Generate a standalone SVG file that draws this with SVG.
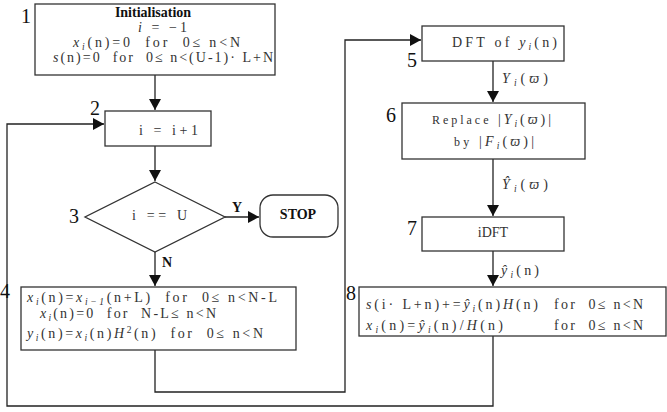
<svg xmlns="http://www.w3.org/2000/svg" width="667" height="412" viewBox="0 0 667 412">
<style>
.box{fill:#fff;stroke:#333;stroke-width:1.3}
.conn{fill:none;stroke:#222;stroke-width:1.3}
.t{font-family:"Liberation Serif","DejaVu Serif",serif;font-size:14px;fill:#333}
.num{font-family:"Liberation Serif","DejaVu Serif",serif;font-size:20px;fill:#111}
.b{font-weight:bold;fill:#111}
.i{font-style:italic}
.s{font-size:9.5px;font-style:italic}
.sm{font-size:12px}
</style>
<defs>
<marker id="ah" markerUnits="userSpaceOnUse" markerWidth="12" markerHeight="12" refX="11" refY="6" orient="auto">
<path d="M0,0 L11,6 L0,12 z" fill="#111"/>
</marker>
</defs>

<g id="connectors">
<path class="conn" d="M155,75 V110" marker-end="url(#ah)"/>
<path class="conn" d="M155,146 V181" marker-end="url(#ah)"/>
<path class="conn" d="M225,217 H259" marker-end="url(#ah)"/>
<path class="conn" d="M155,252 V286" marker-end="url(#ah)"/>
<path class="conn" d="M155,350 V392 H345 V40 H421" marker-end="url(#ah)"/>
<path class="conn" d="M493,61 V102" marker-end="url(#ah)"/>
<path class="conn" d="M493,159 V216" marker-end="url(#ah)"/>
<path class="conn" d="M493,251 V286" marker-end="url(#ah)"/>
<path class="conn" d="M493,336 V406 H7 V124 H104" marker-end="url(#ah)"/>
<text class="t b" x="232" y="212" font-size="11.5">Y</text>
<text class="t b" x="162" y="267" font-size="11.5">N</text>
<text class="t" x="502" y="83" textLength="46"><tspan class="i">Y</tspan><tspan class="s" baseline-shift="-2.5">i</tspan>(<tspan class="i">ϖ</tspan>)</text>
<text class="t" x="502" y="189" textLength="46"><tspan class="i">Ŷ</tspan><tspan class="s" baseline-shift="-2.5">i</tspan>(<tspan class="i">ϖ</tspan>)</text>
<text class="t" x="501" y="275" textLength="38"><tspan class="i">ŷ</tspan><tspan class="s" baseline-shift="-2.5">i</tspan>(n)</text>
</g>

<g id="node1">
<rect class="box" x="35" y="4" width="240" height="71"/>
<text class="num" x="21" y="23">1</text>
<text class="t b" x="153" y="17" text-anchor="middle" font-size="12.5">Initialisation</text>
<text class="t" x="138" y="32" textLength="49"><tspan class="i">i</tspan> = −1</text>
<text class="t" x="73" y="47" textLength="167"><tspan class="i">x</tspan><tspan class="s" baseline-shift="-2.5">i</tspan>(n)=0&#160;&#160;for&#160;&#160;0≤&#160;n&lt;N</text>
<text class="t" x="53" y="62" textLength="220"><tspan class="i">s</tspan>(n)=0&#160;&#160;for&#160;&#160;0≤&#160;n&lt;(U-1)·&#160;L+N</text>
</g>

<g id="node2">
<rect class="box" x="105" y="111" width="106" height="35"/>
<text class="num" x="90" y="115">2</text>
<text class="t" x="139" y="135" textLength="59">i&#160;=&#160;i+1</text>
</g>

<g id="node3">
<polygon class="box" points="155,182 225,217 155,252 85,217"/>
<text class="num" x="69" y="223">3</text>
<text class="t" x="132" y="220" textLength="55">i&#160;==&#160;U</text>
</g>

<g id="stop">
<rect class="box" x="260" y="195" width="78" height="42" rx="13"/>
<text class="t b" x="298" y="219" text-anchor="middle" font-size="12.5">STOP</text>
</g>

<g id="node4">
<rect class="box" x="21" y="287" width="275" height="63"/>
<text class="num" x="0" y="298">4</text>
<text class="t" x="27" y="302" textLength="250"><tspan class="i">x</tspan><tspan class="s" baseline-shift="-2.5">i</tspan>(n)=<tspan class="i">x</tspan><tspan class="s" baseline-shift="-2.5">i−1</tspan>(n+L)&#160;&#160;for&#160;&#160;0≤&#160;n&lt;N-L</text>
<text class="t" x="40" y="318" textLength="176"><tspan class="i">x</tspan><tspan class="s" baseline-shift="-2.5">i</tspan>(n)=0&#160;&#160;for&#160;&#160;N-L≤&#160;n&lt;N</text>
<text class="t" x="27" y="338" textLength="236"><tspan class="i">y</tspan><tspan class="s" baseline-shift="-2.5">i</tspan>(n)=<tspan class="i">x</tspan><tspan class="s" baseline-shift="-2.5">i</tspan>(n)<tspan class="i">H</tspan><tspan font-size="9.5" baseline-shift="5">2</tspan>(n)&#160;&#160;for&#160;&#160;0≤&#160;n&lt;N</text>
</g>

<g id="node5">
<rect class="box" x="422" y="26" width="142" height="35"/>
<text class="num" x="407" y="67">5</text>
<text class="t" x="452" y="47" textLength="105">DFT&#160;of&#160;<tspan class="i">y</tspan><tspan class="s" baseline-shift="-2.5">i</tspan>(n)</text>
</g>

<g id="node6">
<rect class="box" x="402" y="103" width="183" height="56"/>
<text class="num" x="386" y="122">6</text>
<text class="t" x="432" y="124" textLength="119"><tspan class="sm">Replace</tspan>&#160;|<tspan class="i">Y</tspan><tspan class="s" baseline-shift="-2.5">i</tspan>(<tspan class="i">ϖ</tspan>)|</text>
<text class="t" x="454" y="146" textLength="80"><tspan class="sm">by</tspan>&#160;|<tspan class="i">F</tspan><tspan class="s" baseline-shift="-2.5">i</tspan>(<tspan class="i">ϖ</tspan>)|</text>
</g>

<g id="node7">
<rect class="box" x="422" y="217" width="142" height="34"/>
<text class="num" x="407" y="235">7</text>
<text class="t" x="493" y="237" text-anchor="middle" font-size="12">iDFT</text>
</g>

<g id="node8">
<rect class="box" x="359" y="287" width="307" height="49"/>
<text class="num" x="346" y="300">8</text>
<text class="t" x="366" y="309" textLength="172"><tspan class="i">s</tspan>(i·&#160;L+n)+=<tspan class="i">ŷ</tspan><tspan class="s" baseline-shift="-2.5">i</tspan>(n)<tspan class="i">H</tspan>(n)</text>
<text class="t" x="554" y="309" textLength="89">for&#160;&#160;0≤&#160;n&lt;N</text>
<text class="t" x="366" y="330" textLength="137"><tspan class="i">x</tspan><tspan class="s" baseline-shift="-2.5">i</tspan>(n)=<tspan class="i">ŷ</tspan><tspan class="s" baseline-shift="-2.5">i</tspan>(n)/<tspan class="i">H</tspan>(n)</text>
<text class="t" x="554" y="330" textLength="89">for&#160;&#160;0≤&#160;n&lt;N</text>
</g>
</svg>
